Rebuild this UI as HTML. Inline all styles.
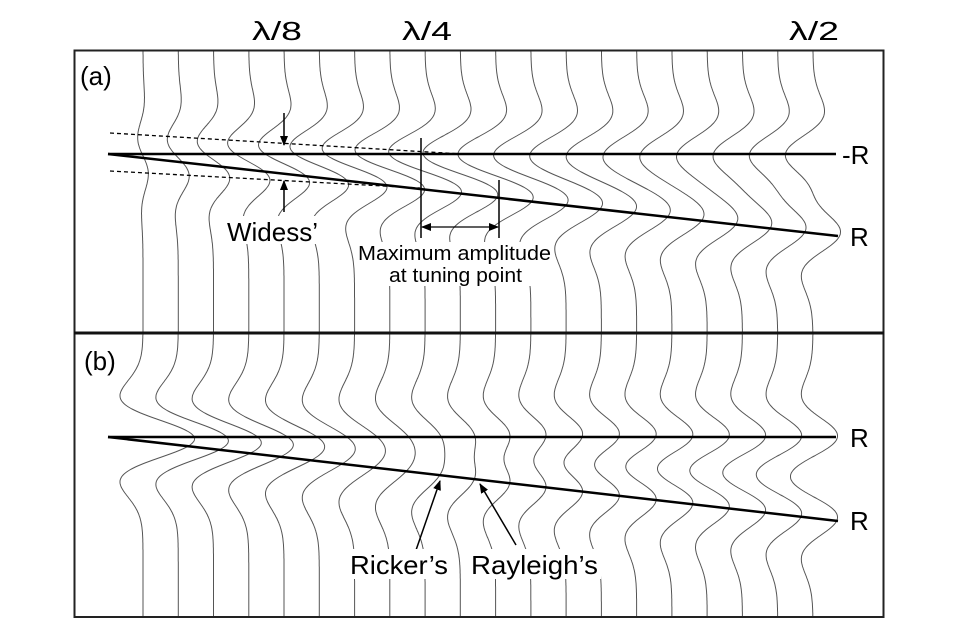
<!DOCTYPE html>
<html><head><meta charset="utf-8"><style>
body{margin:0;background:#fff}
svg{display:block}
text{font-family:"Liberation Sans",Arial,sans-serif;fill:#000}
</style></head><body>
<svg id="s" width="955" height="637" viewBox="0 0 955 637" xmlns="http://www.w3.org/2000/svg">
<defs><marker id="ah" markerWidth="10" markerHeight="8" refX="9" refY="4" orient="auto" markerUnits="userSpaceOnUse"><path d="M0,0 L10,4 L0,8 Z" fill="#000"/></marker></defs>
<g id="tr" fill="none" stroke="#555" stroke-width="1"></g>
<rect x="74.5" y="50.5" width="809" height="566.5" fill="none" stroke="#222" stroke-width="2"/>
<line x1="74" y1="333" x2="884" y2="333" stroke="#111" stroke-width="3"/>
<line x1="108" y1="154" x2="836" y2="154" stroke="#000" stroke-width="2.5"/>
<line x1="108" y1="154" x2="838" y2="236" stroke="#000" stroke-width="2.5"/>
<line x1="110" y1="133" x2="462" y2="154" stroke="#000" stroke-width="1.3" stroke-dasharray="4,3"/>
<line x1="110" y1="171" x2="420" y2="188" stroke="#000" stroke-width="1.3" stroke-dasharray="4,3"/>
<line x1="108" y1="437" x2="836" y2="437" stroke="#000" stroke-width="2.5"/>
<line x1="108" y1="437" x2="838" y2="521" stroke="#000" stroke-width="2.5"/>
<line x1="284" y1="113" x2="284" y2="145" stroke="#000" stroke-width="1.5" marker-end="url(#ah)"/>
<line x1="284" y1="212" x2="284" y2="181" stroke="#000" stroke-width="1.5" marker-end="url(#ah)"/>
<line x1="421" y1="138" x2="421" y2="238" stroke="#000" stroke-width="1.5"/>
<line x1="499" y1="180" x2="499" y2="238" stroke="#000" stroke-width="1.5"/>
<line x1="460" y1="227" x2="422" y2="227" stroke="#000" stroke-width="1.3" marker-end="url(#ah)"/>
<line x1="460" y1="227" x2="498" y2="227" stroke="#000" stroke-width="1.3" marker-end="url(#ah)"/>
<line x1="415" y1="553" x2="440" y2="481" stroke="#000" stroke-width="1.5" marker-end="url(#ah)"/>
<line x1="516" y1="545" x2="480" y2="484" stroke="#000" stroke-width="1.5" marker-end="url(#ah)"/>
<rect x="225" y="216" width="96" height="28" fill="#fff"/>
<rect x="356" y="242" width="198" height="44" fill="#fff"/>
<rect x="348" y="549" width="102" height="30" fill="#fff"/>
<rect x="469" y="549" width="132" height="30" fill="#fff"/>
<text x="227" y="241" font-size="26" textLength="91" lengthAdjust="spacingAndGlyphs">Widess’</text>
<text x="358" y="260" font-size="20" textLength="193" lengthAdjust="spacingAndGlyphs">Maximum amplitude</text>
<text x="389" y="282" font-size="20" textLength="133" lengthAdjust="spacingAndGlyphs">at tuning point</text>
<text x="350" y="574" font-size="26" textLength="98" lengthAdjust="spacingAndGlyphs">Ricker’s</text>
<text x="471" y="574" font-size="26" textLength="127" lengthAdjust="spacingAndGlyphs">Rayleigh’s</text>
<text x="80" y="85" font-size="26">(a)</text>
<text x="84" y="370" font-size="26">(b)</text>
<text x="252" y="40" font-size="26" textLength="50" lengthAdjust="spacingAndGlyphs">λ/8</text>
<text x="402" y="40" font-size="26" textLength="50" lengthAdjust="spacingAndGlyphs">λ/4</text>
<text x="789" y="40" font-size="26" textLength="50" lengthAdjust="spacingAndGlyphs">λ/2</text>
<text x="842" y="164" font-size="26">-R</text>
<text x="850" y="246" font-size="26">R</text>
<text x="850" y="447" font-size="26">R</text>
<text x="850" y="530" font-size="26">R</text>
</svg>
<script>
(function(){
var g=document.getElementById('tr'),a=0.000811,A=26;
function r(t){var q=a*t*t;return (1-2*q)*Math.exp(-q);}
var out='';
for(var i=0;i<20;i++){
 var x0=143+i*35.26, th=82*(x0-110)/728, d='';
 for(var y=51;y<=333;y+=1){var o=A*(-r(y-154)+r(y-154-th));d+=(y==51?'M':'L')+(x0+o).toFixed(1)+','+y;}
 for(var y=333;y<=616;y+=1){var o=A*(r(y-437)+r(y-437-th));d+='L'+(x0+o).toFixed(1)+','+y;}
 out+='<path d="'+d+'"/>';
}
g.innerHTML=out;
})();
</script>
</body></html>
